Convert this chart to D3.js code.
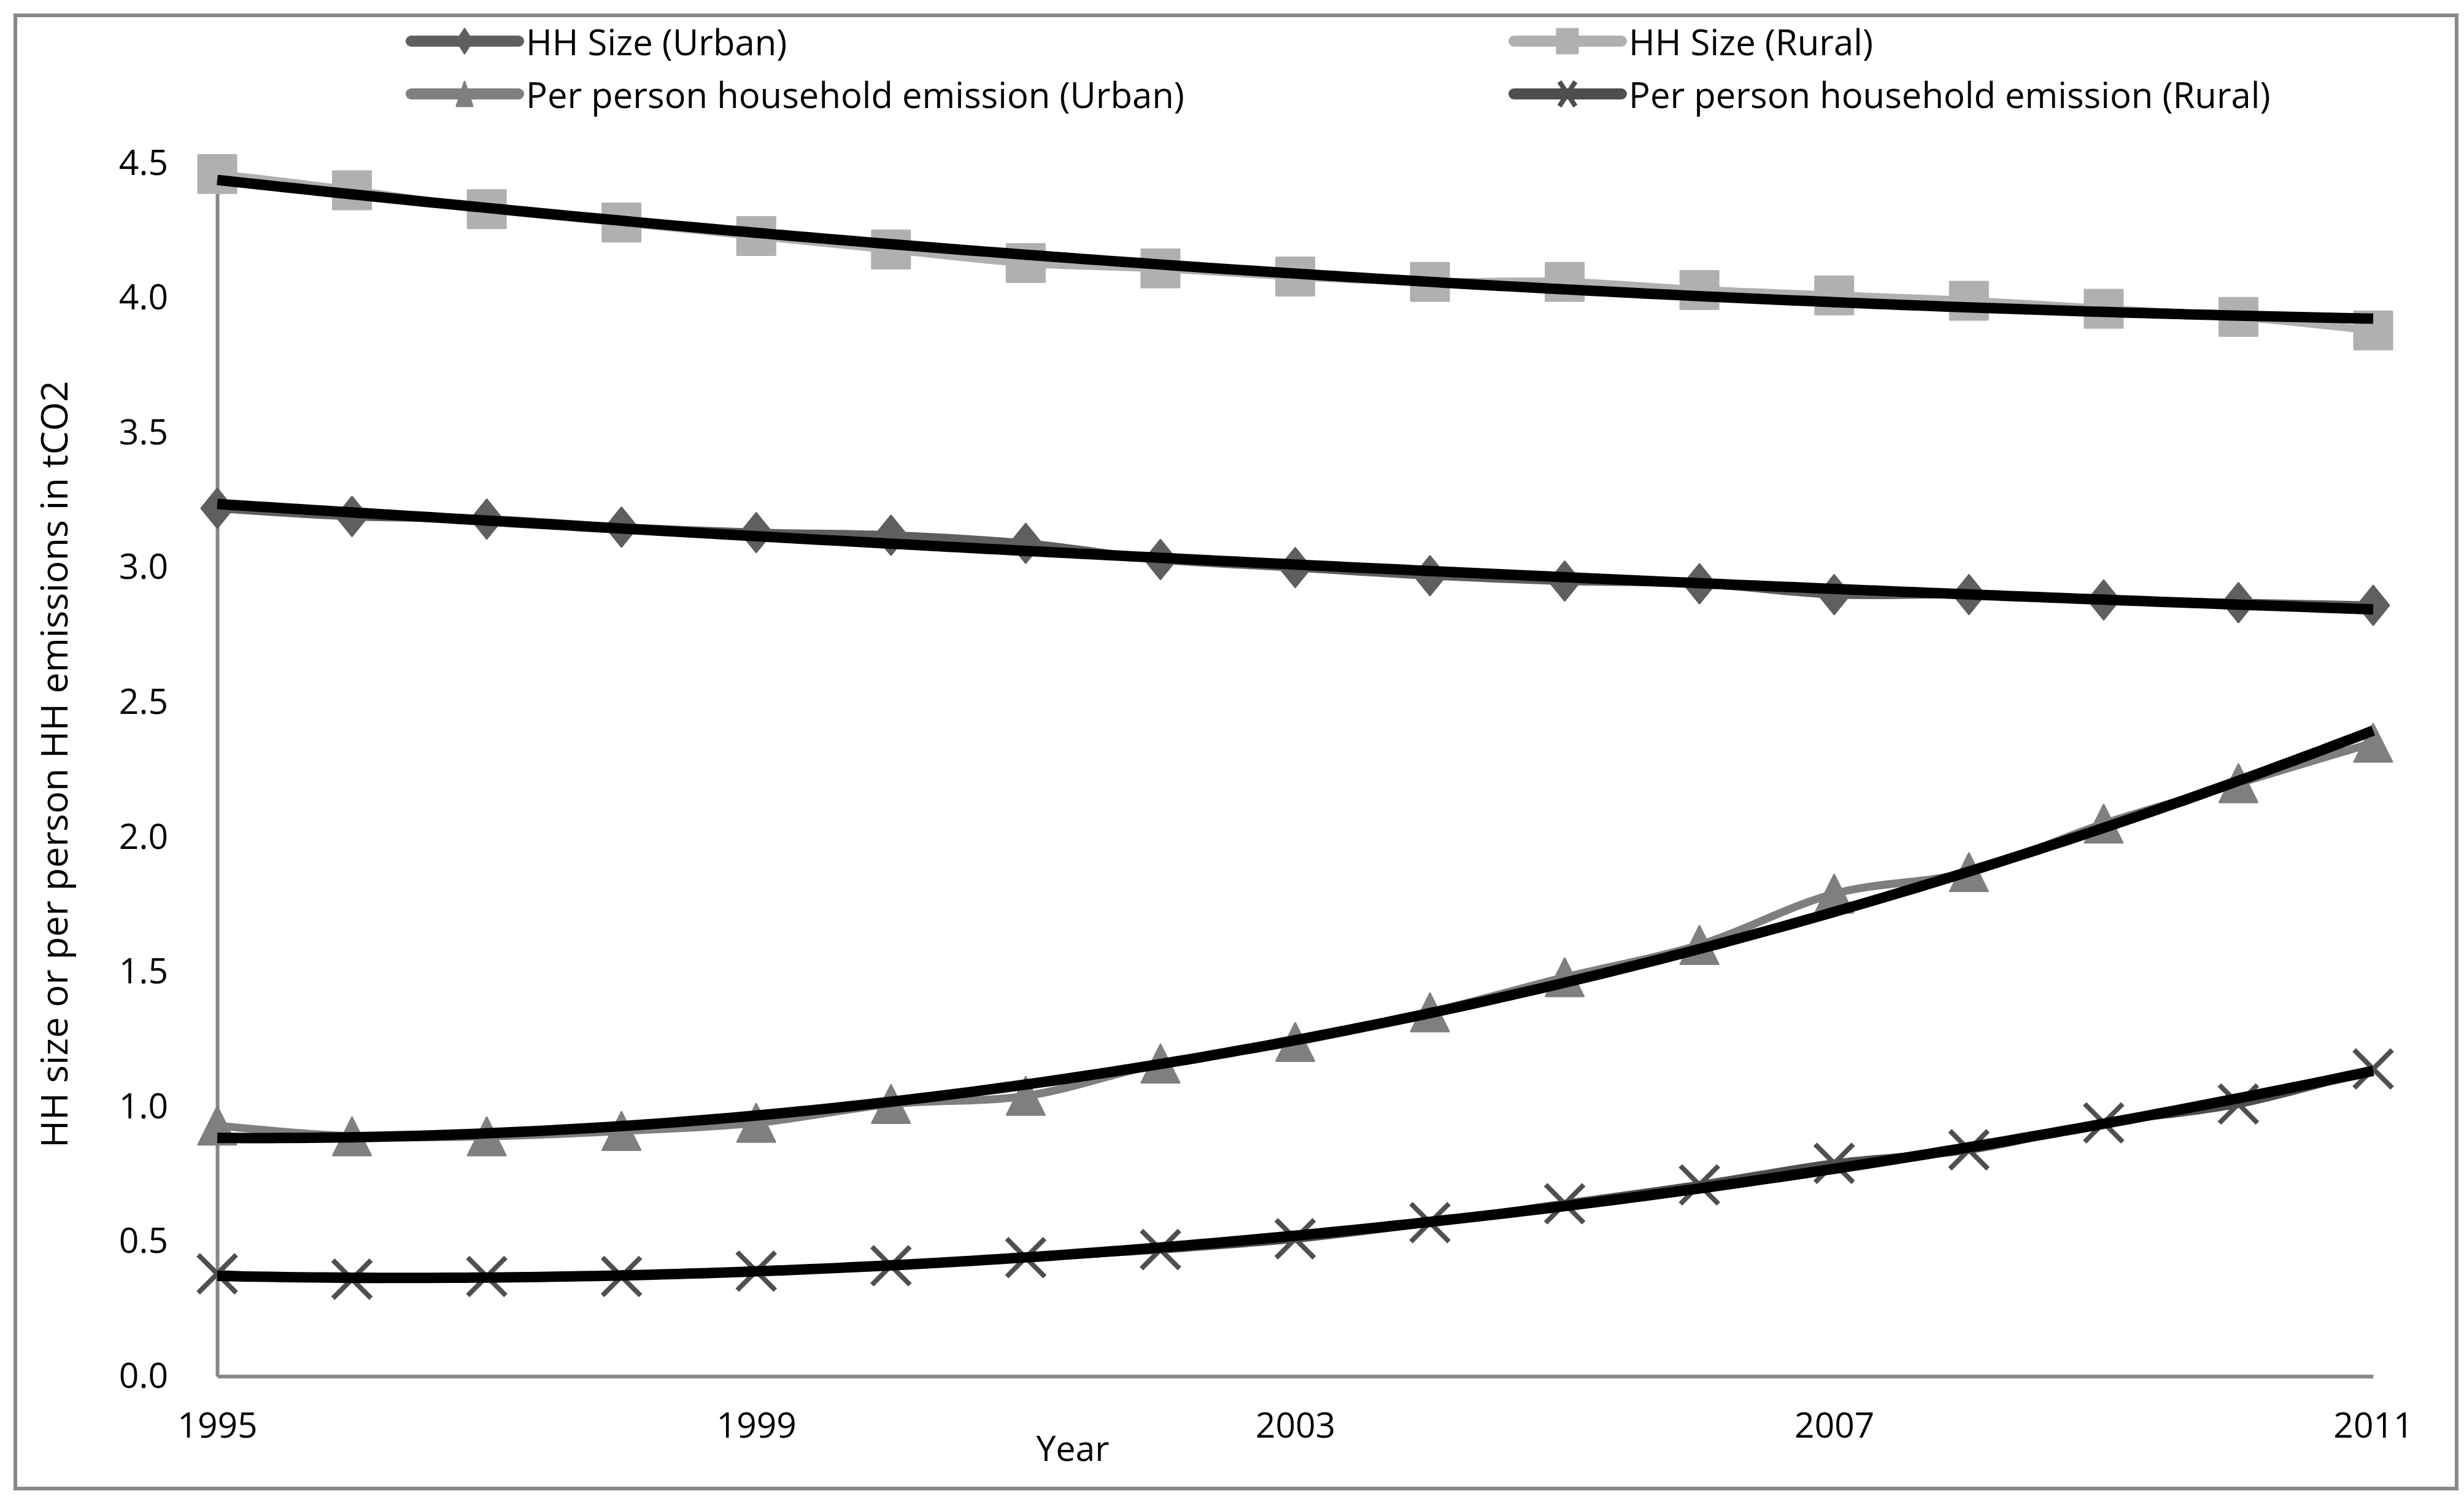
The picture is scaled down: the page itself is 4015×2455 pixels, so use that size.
<!DOCTYPE html>
<html>
<head>
<meta charset="utf-8">
<script src="https://cdn.jsdelivr.net/npm/d3@7"></script>
<style>
  body { margin: 0; background: #fff; }
  text { font-family: "Open Sans", sans-serif; fill: #000; }
</style>
</head>
<body>
<script>

// data
const years = [1995,1996,1997,1998,1999,2000,2001,2002,2003,2004,2005,2006,2007,2008,2009,2010,2011];
const hhUrban = [3.22,3.19,3.18,3.15,3.13,3.12,3.09,3.03,3.00,2.97,2.95,2.94,2.90,2.90,2.88,2.87,2.86];
const hhRural = [4.46,4.40,4.33,4.28,4.23,4.18,4.13,4.11,4.08,4.06,4.06,4.03,4.01,3.99,3.96,3.93,3.88];
const emUrban = [0.93,0.89,0.89,0.91,0.94,1.01,1.04,1.16,1.24,1.35,1.48,1.60,1.79,1.87,2.05,2.20,2.35];
const emRural = [0.38,0.36,0.37,0.37,0.39,0.41,0.44,0.47,0.51,0.57,0.64,0.71,0.79,0.84,0.94,1.01,1.14];

const seriesNames = ["HH Size (Urban)", "HH Size (Rural)", "Per person household emission (Urban)", "Per person household emission (Rural)"];
const yTicks = [0, 0.5, 1, 1.5, 2, 2.5, 3, 3.5, 4, 4.5];
const xTicks = [1995, 1999, 2003, 2007, 2011];

var width = 4015;
var height = 2455;

const margin = {left: 354, top: 266, right: 148, bottom: 213}

var svg = d3.select("body").append("svg")
      .attr("width", width)
      .attr("height", height);

// outer frame
svg.append("rect")
   .attr("x", 25).attr("y", 25)
   .attr("width", 3978).attr("height", 2400)
   .attr("fill", "#fff")
   .attr("stroke", "#888").attr("stroke-width", 6);

var x = d3.scaleLinear().domain([1995, 2011]).range([margin.left, width - margin.right]);
var y = d3.scaleLinear().domain([0, 4.5]).range([height - margin.bottom, margin.top]);

// axes
var yAxis = svg.append("g")
    .attr("transform", "translate(" + margin.left + ",0)")
    .call(d3.axisLeft(y).tickValues(yTicks).tickFormat(d3.format(".1f")).tickSize(0).tickPadding(80));
var xAxis = svg.append("g")
    .attr("transform", "translate(0," + y(0) + ")")
    .call(d3.axisBottom(x).tickValues(xTicks).tickFormat(d3.format("d")).tickSize(0).tickPadding(60));

[yAxis, xAxis].forEach(function(a) {
  a.select(".domain").attr("stroke", "#888").attr("stroke-width", 6);
  a.selectAll("text").attr("font-size", 57).attr("font-family", "Open Sans");
});

svg.append("text")
   .attr("x", 1748).attr("y", 2358)
   .attr("text-anchor", "middle").attr("dominant-baseline", "central")
   .attr("font-size", 57)
   .text("Year");

svg.append("text")
   .attr("transform", "translate(86,1245) rotate(-90)")
   .attr("text-anchor", "middle").attr("dominant-baseline", "central")
   .attr("font-size", 61)
   .text("HH size or per person HH emissions in tCO2");

// marker shapes
function markerPath(kind, w, h) {
  var a = w / 2, b = h / 2;
  if (kind == "diamond") return "M0," + (-b) + "L" + a + ",0L0," + b + "L" + (-a) + ",0Z";
  if (kind == "square") return "M" + (-a) + "," + (-b) + "H" + a + "V" + b + "H" + (-a) + "Z";
  if (kind == "triangle") return "M0," + (-b) + "L" + a + "," + b + "L" + (-a) + "," + b + "Z";
  return "M" + (-a) + "," + (-b) + "L" + a + "," + b + "M" + a + "," + (-b) + "L" + (-a) + "," + b;
}

const series = [
  {name: seriesNames[0], values: hhUrban, color: "#5f5f5f", marker: "diamond", w: 52, h: 64},
  {name: seriesNames[1], values: hhRural, color: "#b0b0b0", marker: "square", w: 62, h: 62},
  {name: seriesNames[2], values: emUrban, color: "#7f7f7f", marker: "triangle", w: 62, h: 62},
  {name: seriesNames[3], values: emRural, color: "#4f4f4f", marker: "x", w: 62, h: 62}
];

var line = d3.line()
    .x(function(d) { return x(d[0]); })
    .y(function(d) { return y(d[1]); })
    .curve(d3.curveCatmullRom.alpha(0.5));

function drawMarker(g, s, w, h) {
  var p = g.append("path").attr("d", markerPath(s.marker, w, h));
  if (s.marker == "x") {
    p.attr("fill", "none").attr("stroke", s.color).attr("stroke-width", 8);
  } else {
    p.attr("fill", s.color).attr("stroke", s.color).attr("stroke-width", 3).attr("stroke-linejoin", "round");
  }
}

// data lines + markers
series.forEach(function(s) {
  var pts = years.map(function(yr, i) { return [yr, s.values[i]]; });
  svg.append("path")
     .attr("d", line(pts))
     .attr("fill", "none")
     .attr("stroke", s.color)
     .attr("stroke-width", 13)
     .attr("stroke-linejoin", "round");

  svg.selectAll(null)
     .data(pts)
     .join("g")
     .attr("transform", function(d) { return "translate(" + x(d[0]) + "," + y(d[1]) + ")"; })
     .each(function() { drawMarker(d3.select(this), s, s.w, s.h); });
});

// polynomial (order 2) trendline, least squares fit on the series
function polyFit(xs, ys) {
  var n = xs.length, S = [0,0,0,0,0], T = [0,0,0];
  for (var i = 0; i < n; i++) {
    var t = xs[i] - 1995, p = 1;
    for (var k = 0; k < 5; k++) { S[k] += p; if (k < 3) T[k] += p * ys[i]; p *= t; }
  }
  var M = [[S[0],S[1],S[2],T[0]],[S[1],S[2],S[3],T[1]],[S[2],S[3],S[4],T[2]]];
  for (var c = 0; c < 3; c++) {
    for (var r = c + 1; r < 3; r++) {
      var f = M[r][c] / M[c][c];
      for (var k = c; k < 4; k++) M[r][k] -= f * M[c][k];
    }
  }
  var co = [0,0,0];
  for (var r = 2; r >= 0; r--) {
    var v = M[r][3];
    for (var k = r + 1; k < 3; k++) v -= M[r][k] * co[k];
    co[r] = v / M[r][r];
  }
  return function(yr) { var t = yr - 1995; return co[0] + co[1] * t + co[2] * t * t; };
}

var trendLine = d3.line()
    .x(function(d) { return x(d[0]); })
    .y(function(d) { return y(d[1]); });

series.forEach(function(s) {
  var f = polyFit(years, s.values);
  var pts = d3.range(1995, 2011.001, 0.1).map(function(t) { return [t, f(t)]; });
  svg.append("path")
     .attr("d", trendLine(pts))
     .attr("fill", "none")
     .attr("stroke", "#000")
     .attr("stroke-width", 17);
});

// legend
const legendPos = [[670, 67], [2467, 67], [670, 153], [2467, 153]];
series.forEach(function(s, i) {
  var g = svg.append("g").attr("transform", "translate(" + legendPos[i][0] + "," + legendPos[i][1] + ")");
  g.append("line")
   .attr("x1", 0).attr("x2", 175)
   .attr("stroke", s.color).attr("stroke-width", 18).attr("stroke-linecap", "round");
  var m = g.append("g").attr("transform", "translate(87,0)");
  drawMarker(m, s, s.marker == "square" ? 34 : 26, 40);
  g.append("text")
   .attr("x", 187).attr("y", 0)
   .attr("dominant-baseline", "central")
   .attr("font-size", 58)
   .text(s.name);
});

</script>
</body>
</html>
